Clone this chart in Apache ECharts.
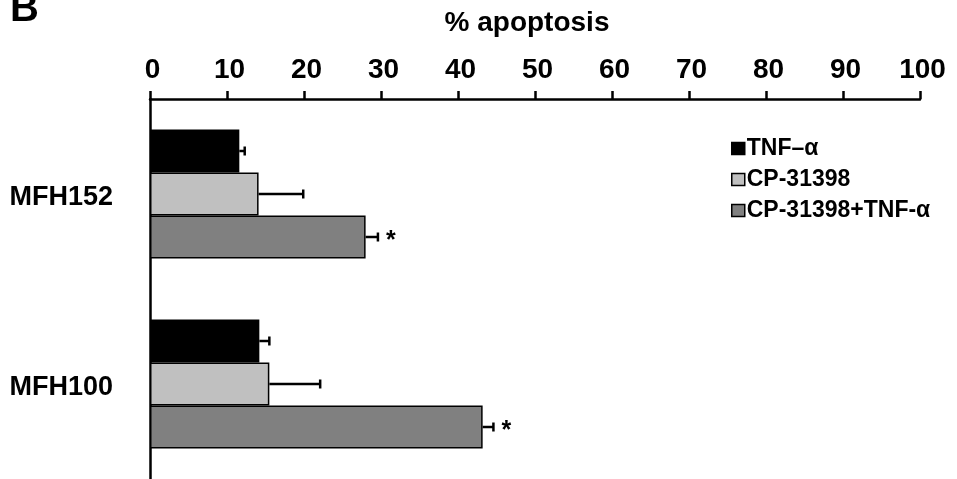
<!DOCTYPE html>
<html>
<head>
<meta charset="utf-8">
<script src="https://cdn.jsdelivr.net/npm/echarts@6/dist/echarts.min.js"></script>
<style>html,body{margin:0;padding:0;background:#fff}#c{width:957px;height:479px}</style>
</head>
<body>
<div id="c"></div>
<script>
var categories = ['MFH152', 'MFH100'];
var seriesNames = ['TNF\u2013\u03b1', 'CP-31398', 'CP-31398+TNF-\u03b1'];
var tnfValues = [11.6, 14.2];
var cpValues = [14.1, 15.5];
var comboValues = [28.0, 43.2];
var tnfErrors = [0.7, 1.3];
var cpErrors = [5.8, 6.6];
var comboErrors = [1.6, 1.4];
var comboMarks = ['*', '*'];
var xTicks = [0, 100, 10];

var colors = ['#000000', '#c0c0c0', '#808080'];
var FONT = 'Liberation Sans, Arial, sans-serif';
var BAR_W = 43;

var values = [tnfValues, cpValues, comboValues];
var errors = [tnfErrors, cpErrors, comboErrors];

var errData = [];
for (var s = 0; s < values.length; s++) {
  for (var c = 0; c < categories.length; c++) {
    errData.push([values[s][c] + errors[s][c], c, values[s][c], s, s === 2 ? comboMarks[c] : '']);
  }
}

var chart = echarts.init(document.getElementById('c'), null, {renderer: 'canvas'});

var barSeries = seriesNames.map(function (name, i) {
  return {
    name: name,
    type: 'bar',
    data: values[i],
    barWidth: BAR_W,
    barGap: '0%',
    itemStyle: {color: colors[i], borderColor: '#000', borderWidth: 1.5},
    z: 2
  };
});

barSeries.push({
  type: 'custom',
  data: errData,
  z: 3,
  encode: {x: [0, 2], y: 1},
  renderItem: function (params, api) {
    var hi = api.coord([api.value(0), api.value(1)]);
    var lo = api.coord([api.value(2), api.value(1)]);
    var s = api.value(3);
    var y = hi[1] + (s - 1) * BAR_W;
    var mark = errData[params.dataIndex][4];
    var children = [
      {type: 'line', shape: {x1: lo[0], y1: y, x2: hi[0], y2: y}, style: {stroke: '#000', lineWidth: 2.5}},
      {type: 'line', shape: {x1: hi[0], y1: y - 4.5, x2: hi[0], y2: y + 4.5}, style: {stroke: '#000', lineWidth: 2.5}}
    ];
    if (mark) {
      children.push({type: 'text', x: hi[0] + 8, y: y + 4,
        style: {text: mark, fill: '#000', font: 'bold 25px ' + FONT, textAlign: 'left', textVerticalAlign: 'middle'}});
    }
    return {type: 'group', children: children};
  }
});

chart.setOption({
  animation: false,
  backgroundColor: '#fff',
  grid: {left: 150, right: 37, top: 99, height: 384, containLabel: false},
  legend: {
    orient: 'vertical',
    left: 731,
    top: 137,
    padding: 0,
    itemGap: 8,
    itemWidth: 13,
    itemHeight: 12,
    icon: 'rect',
    data: seriesNames,
    itemStyle: {borderColor: '#000', borderWidth: 1.5},
    textStyle: {fontFamily: FONT, fontWeight: 'bold', fontSize: 23, color: '#000', padding: [0, 0, 0, -3]}
  },
  xAxis: {
    type: 'value',
    position: 'top',
    min: xTicks[0],
    max: xTicks[1],
    interval: xTicks[2],
    splitLine: {show: false},
    axisLine: {show: true, lineStyle: {color: '#000', width: 2.5}},
    axisTick: {show: true, inside: false, length: 8, lineStyle: {color: '#000', width: 2.5}},
    axisLabel: {margin: 15, fontFamily: FONT, fontWeight: 'bold', fontSize: 28, color: '#000', padding: [0, 0, 0, 5]}
  },
  yAxis: {
    type: 'category',
    data: categories,
    inverse: true,
    axisLine: {show: true, lineStyle: {color: '#000', width: 2.5}},
    axisTick: {show: false},
    axisLabel: {margin: 37, fontFamily: FONT, fontWeight: 'bold', fontSize: 27, color: '#000', verticalAlign: 'top', lineHeight: 8}
  },
  graphic: [
    {type: 'text', left: 10, top: -10, style: {text: 'B', font: 'bold 40px ' + FONT, fill: '#000'}},
    {type: 'text', x: 527, y: 23, style: {text: '% apoptosis', font: 'bold 28px ' + FONT, fill: '#000', textAlign: 'center', textVerticalAlign: 'middle'}}
  ],
  series: barSeries
});
</script>
</body>
</html>
